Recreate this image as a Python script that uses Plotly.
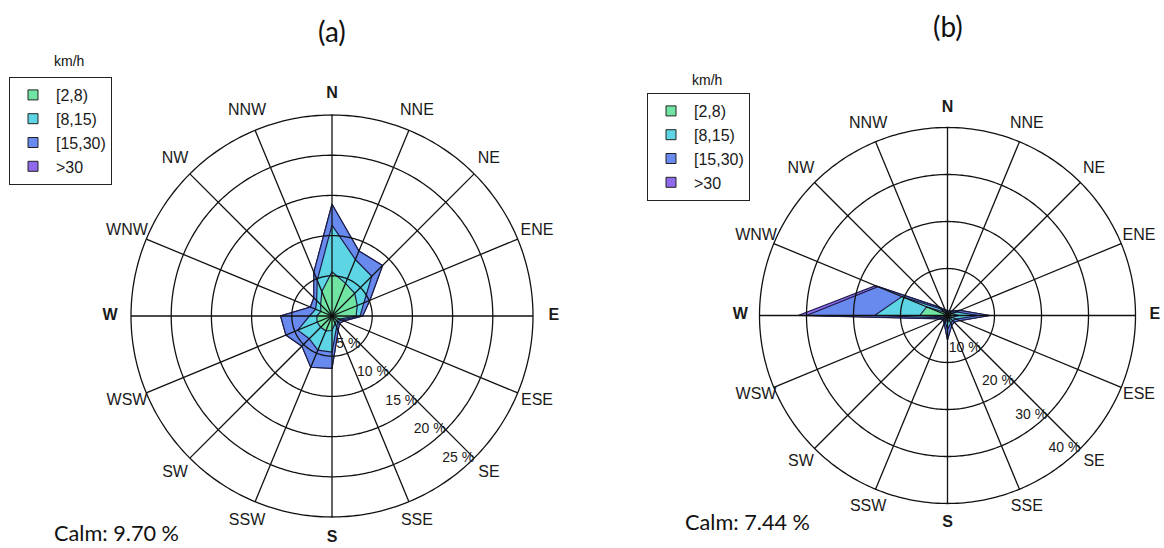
import numpy as np
import plotly.graph_objects as go

# 16 compass sectors, clockwise from north
directions = ["N", "NNE", "NE", "ENE", "E", "ESE", "SE", "SSE",
              "S", "SSW", "SW", "WSW", "W", "WNW", "NW", "NNW"]
bearings = [i * 22.5 for i in range(16)]
speed_bins = ["[2,8)", "[8,15)", "[15,30)", ">30"]
bin_colors = ["#6FE4A3", "#5ED5E4", "#6889EE", "#8F6BEC"]

# Site (a): frequency (%) of each speed class per direction
a_2_8 = [5.5, 4.4, 4.0, 3.4, 3.0, 1.0, 0.8, 1.0, 1.8, 2.0, 2.0, 2.0, 1.9, 1.5, 2.0, 3.3]
a_8_15 = [5.8, 3.2, 3.0, 0.9, 0.5, 0.3, 0.2, 0.5, 2.7, 2.6, 2.0, 2.6, 0.9, 0.7, 0.7, 1.5]
a_15_30 = [2.6, 1.15, 1.9, 0.8, 0.3, 0.3, 0.3, 0.5, 2.0, 2.3, 1.3, 1.6, 3.6, 0.7, 0.5, 1.1]
a_30 = [0.0] * 16
a_calm = "Calm: 9.70 %"

# Site (b): frequency (%) of each speed class per direction
b_2_8 = [0.5, 0.5, 0.6, 1.0, 2.5, 1.0, 0.8, 1.0, 1.5, 0.8, 0.6, 0.8, 5.9, 4.8, 1.0, 0.5]
b_8_15 = [0.3, 0.3, 0.4, 1.0, 4.0, 1.0, 0.7, 0.8, 1.5, 0.5, 0.4, 0.5, 9.6, 5.7, 1.0, 0.5]
b_15_30 = [0.2, 0.2, 0.3, 0.8, 2.5, 0.8, 0.5, 0.5, 2.2, 0.5, 0.3, 0.5, 14.5, 5.5, 0.5, 0.3]
b_30 = [0.0, 0.0, 0.0, 0.0, 0.0, 0.0, 0.0, 0.0, 0.0, 0.0, 0.0, 0.1, 1.8, 0.6, 0.1, 0.0]
b_calm = "Calm: 7.44 %"

a_rings = [5, 10, 15, 20, 25]
b_rings = [10, 20, 30, 40]

# radial position of the compass labels, a little beyond the outer ring
a_label_r = 27.6
b_label_r = 44.1

LABEL_FONT = "Liberation Sans, Arial, sans-serif"
TITLE_FONT = "Lato, Open Sans, sans-serif"
GRID = "#111111"
INK = "#1a1a1a"

fig = go.Figure()


def add_rose(subplot, legend, bins, rings, label_r):
    cum = np.cumsum(np.array(bins), axis=0)
    theta = bearings + [bearings[0]]
    # outermost class first so inner classes are painted over it
    for k in range(len(bins) - 1, -1, -1):
        r = list(cum[k]) + [cum[k][0]]
        fig.add_trace(go.Scatterpolar(
            r=r, theta=theta, mode="lines", fill="toself",
            fillcolor=bin_colors[k], line=dict(color="#1d1d4a", width=1.2),
            subplot=subplot, showlegend=False, hoverinfo="skip"))
    rmax = rings[-1]
    # grid circles drawn above the filled polygons
    circ = np.linspace(0, 360, 361)
    for rv in rings:
        fig.add_trace(go.Scatterpolar(
            r=[rv] * len(circ), theta=circ, mode="lines",
            line=dict(color=GRID, width=1.3), subplot=subplot,
            showlegend=False, hoverinfo="skip"))
    # spokes
    sr, st = [], []
    for b in bearings:
        sr += [0, rmax, None]
        st += [b, b, None]
    fig.add_trace(go.Scatterpolar(
        r=sr, theta=st, mode="lines", line=dict(color=GRID, width=1.3),
        subplot=subplot, showlegend=False, hoverinfo="skip"))
    # ring labels along the SE spoke
    fig.add_trace(go.Scatterpolar(
        r=rings, theta=[135] * len(rings), mode="text",
        text=[f"{v} %" for v in rings], textposition="middle left",
        textfont=dict(family=LABEL_FONT, size=14, color=INK),
        subplot=subplot, showlegend=False, hoverinfo="skip"))
    # compass labels centred just outside the rim
    fig.add_trace(go.Scatterpolar(
        r=[label_r] * 16, theta=bearings, mode="text", cliponaxis=False,
        text=[f"<b>{d}</b>" if d in ("N", "E", "S", "W") else d for d in directions],
        textposition="middle center",
        textfont=dict(family=LABEL_FONT, size=16, color=INK),
        subplot=subplot, showlegend=False, hoverinfo="skip"))
    # legend keys
    for k, name in enumerate(speed_bins):
        fig.add_trace(go.Scatterpolar(
            r=[None], theta=[None], mode="markers", name=name,
            marker=dict(symbol="square", size=10, color=bin_colors[k],
                        line=dict(color="#222222", width=1)),
            subplot=subplot, legend=legend, showlegend=True))


add_rose("polar", "legend", [a_2_8, a_8_15, a_15_30, a_30], a_rings, a_label_r)
add_rose("polar2", "legend2", [b_2_8, b_8_15, b_15_30, b_30], b_rings, b_label_r)


def polar_layout(cx, cy, radius_px, rmax):
    # square domain so the radial range [0, rmax] spans radius_px pixels
    return dict(
        domain=dict(x=[(cx - radius_px) / W, (cx + radius_px) / W],
                    y=[(H - cy - radius_px) / H, (H - cy + radius_px) / H]),
        bgcolor="white", hole=0,
        radialaxis=dict(range=[0, rmax], visible=False),
        angularaxis=dict(direction="clockwise", rotation=90, visible=False,
                         showgrid=False, showline=False, ticks="",
                         showticklabels=False))


W, H = 1164, 548
legend_style = dict(bgcolor="white", bordercolor="#222222", borderwidth=1,
                    font=dict(family=LABEL_FONT, size=16, color=INK),
                    xanchor="left", yanchor="top", itemclick=False,
                    itemwidth=36, tracegroupgap=0)


def note(text, x, y, size, family, xanchor="center"):
    return dict(text=text, x=x / W, y=1 - y / H, xref="paper", yref="paper",
                showarrow=False, xanchor=xanchor, yanchor="middle",
                font=dict(family=family, size=size, color="#111111"))


fig.update_layout(
    width=W, height=H, margin=dict(l=0, r=0, t=0, b=0),
    paper_bgcolor="white", plot_bgcolor="white",
    polar=polar_layout(332, 316, 201 * a_label_r / a_rings[-1], a_label_r),
    polar2=polar_layout(947.5, 315.5, 188 * b_label_r / b_rings[-1], b_label_r),
    legend=dict(x=9 / W, y=1 - 77 / H, **legend_style),
    legend2=dict(x=647 / W, y=1 - 93 / H, **legend_style),
    annotations=[
        note("(a)", 332, 31, 28, TITLE_FONT),
        note("(b)", 948, 26, 28, TITLE_FONT),
        note("km/h", 69, 61, 14, LABEL_FONT),
        note("km/h", 707, 80, 14, LABEL_FONT),
        note(a_calm, 52, 533, 21.7, TITLE_FONT, "left"),
        note(b_calm, 683, 522, 21.7, TITLE_FONT, "left"),
    ],
)

fig.write_html("out.html")
